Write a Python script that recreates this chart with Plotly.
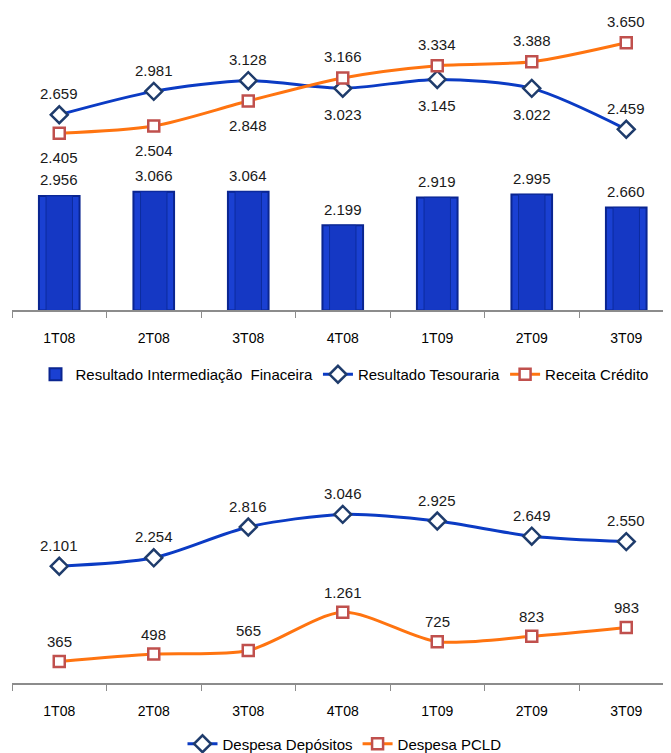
import plotly.graph_objects as go

# ---- data ----
quarters = ["1T08", "2T08", "3T08", "4T08", "1T09", "2T09", "3T09"]
resultado_intermediacao = [2956, 3066, 3064, 2199, 2919, 2995, 2660]
resultado_tesouraria = [2659, 2981, 3128, 3023, 3145, 3022, 2459]
receita_credito = [2405, 2504, 2848, 3166, 3334, 3388, 3650]
despesa_depositos = [2101, 2254, 2816, 3046, 2925, 2649, 2550]
despesa_pcld = [365, 498, 565, 1261, 725, 823, 983]

# label placement (style): +1 above, -1 below
pos_tesouraria = [1, 1, 1, -1, -1, -1, 1]
pos_credito = [-1, -1, -1, 1, 1, 1, 1]

FONT = "Liberation Sans, Arial, sans-serif"
BLUE_LINE = "#0B3BC4"
ORANGE_LINE = "#FF7410"
DIAMOND_EDGE = "#1F3C6C"
SQUARE_EDGE = "#C0504D"
BAR_FILL = "#1A40D2"
BAR_EDGE = "#0A2590"

OFF = 8.0  # page body margin


def fmt(v):
    return f"{v:,}".replace(",", ".")


fig = go.Figure()

# ---- top panel ----
fig.add_trace(go.Bar(
    x=quarters, y=resultado_intermediacao, name="Resultado Intermediação  Finaceira",
    marker=dict(color=BAR_FILL, line=dict(color=BAR_EDGE, width=2)),
    width=0.43, xaxis="x", yaxis="y", legend="legend",
))
fig.add_trace(go.Bar(
    x=quarters, y=resultado_intermediacao, showlegend=False, hoverinfo="skip",
    marker=dict(color="#1538C4", line=dict(color="#0D2C9E", width=1)),
    width=0.28, xaxis="x", yaxis="y",
))
fig.add_trace(go.Scatter(
    x=quarters, y=resultado_tesouraria, name="Resultado Tesouraria",
    mode="lines+markers", line=dict(color=BLUE_LINE, width=3, shape="spline", smoothing=0.8),
    marker=dict(symbol="diamond", size=13, color="white", line=dict(color=DIAMOND_EDGE, width=2.5)),
    xaxis="x", yaxis="y2", legend="legend",
))
fig.add_trace(go.Scatter(
    x=quarters, y=receita_credito, name="Receita Crédito",
    mode="lines+markers", line=dict(color=ORANGE_LINE, width=3, shape="spline", smoothing=0.8),
    marker=dict(symbol="square", size=11, color="white", line=dict(color=SQUARE_EDGE, width=2.5)),
    xaxis="x", yaxis="y2", legend="legend",
))

# ---- bottom panel ----
fig.add_trace(go.Scatter(
    x=quarters, y=despesa_depositos, name="Despesa Depósitos",
    mode="lines+markers", line=dict(color=BLUE_LINE, width=3, shape="spline", smoothing=0.8),
    marker=dict(symbol="diamond", size=13, color="white", line=dict(color=DIAMOND_EDGE, width=2.5)),
    xaxis="x2", yaxis="y3", legend="legend2",
))
fig.add_trace(go.Scatter(
    x=quarters, y=despesa_pcld, name="Despesa PCLD",
    mode="lines+markers", line=dict(color=ORANGE_LINE, width=3, shape="spline", smoothing=0.8),
    marker=dict(symbol="square", size=11, color="white", line=dict(color=SQUARE_EDGE, width=2.5)),
    xaxis="x2", yaxis="y3", legend="legend2",
))

annotations = []
lbl_font = dict(family=FONT, size=15, color="#1a1a1a")
for q, v in zip(quarters, resultado_intermediacao):
    annotations.append(dict(x=q, y=v, xref="x", yref="y", text=fmt(v), showarrow=False,
                            yshift=16, font=lbl_font))
for q, v, p in zip(quarters, resultado_tesouraria, pos_tesouraria):
    annotations.append(dict(x=q, y=v, xref="x", yref="y2", text=fmt(v), showarrow=False,
                            yshift=21 if p > 0 else -26, font=lbl_font))
for q, v, p in zip(quarters, receita_credito, pos_credito):
    annotations.append(dict(x=q, y=v, xref="x", yref="y2", text=fmt(v), showarrow=False,
                            yshift=21 if p > 0 else -24, font=lbl_font))
for q, v in zip(quarters, despesa_depositos):
    annotations.append(dict(x=q, y=v, xref="x2", yref="y3", text=fmt(v), showarrow=False,
                            yshift=21, font=lbl_font))
for q, v in zip(quarters, despesa_pcld):
    annotations.append(dict(x=q, y=v, xref="x2", yref="y3", text=fmt(v), showarrow=False,
                            yshift=20, font=lbl_font))

H = 753.0
W = 671.0
x0 = 12 - OFF
xaxis_common = dict(
    type="category", range=[-0.5, -0.5 + (W - x0) / 94.5], domain=[x0 / W, 1],
    showline=True, linecolor="#8C8C8C", linewidth=2,
    ticks="outside", tickson="boundaries", ticklen=6, tickcolor="#8C8C8C", tickwidth=1,
    showgrid=False, zeroline=False,
    tickfont=dict(family=FONT, size=14, color="#000000"),
    ticklabelstandoff=14,
)


def ydom(top, bottom):
    return [1 - (bottom - OFF) / H, 1 - (top - OFF) / H]


fig.update_layout(
    width=671, height=753, autosize=False,
    margin=dict(l=0, r=0, t=0, b=0),
    paper_bgcolor="white", plot_bgcolor="white",
    separators=",.",
    barmode="overlay",
    showlegend=True,
    font=dict(family=FONT, size=14, color="#000000"),
    xaxis=dict(xaxis_common, anchor="y"),
    yaxis=dict(domain=ydom(20, 311.7), range=[0, 7499], visible=False, fixedrange=True),
    yaxis2=dict(overlaying="y", range=[-33, 3963], visible=False, fixedrange=True),
    xaxis2=dict(xaxis_common, anchor="y3"),
    yaxis3=dict(domain=ydom(472, 685.5), range=[-25, 3853], visible=False, fixedrange=True),
    legend=dict(orientation="h", x=(344.5 - OFF) / W, xanchor="center", y=1 - (376 - OFF) / H,
                yanchor="middle",
                font=dict(family=FONT, size=15, color="#000000"), bgcolor="rgba(0,0,0,0)",
                itemwidth=30, traceorder="normal"),
    legend2=dict(orientation="h", x=(344.5 - OFF) / W, xanchor="center", y=1 - (747 - OFF) / H,
                 yanchor="middle",
                 font=dict(family=FONT, size=15, color="#000000"), bgcolor="rgba(0,0,0,0)",
                 itemwidth=30, traceorder="normal"),
    annotations=annotations,
)

fig.write_html("out.html")
